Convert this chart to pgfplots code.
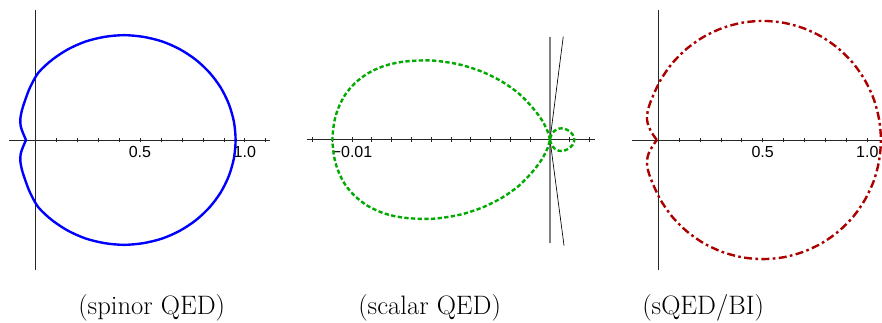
\documentclass[border=0pt]{standalone}
\usepackage{fontspec}
\usepackage{pgfplots}
\pgfplotsset{compat=1.18}
\newfontfamily\helv{Liberation Sans}
\definecolor{qblue}{rgb}{0,0,1}
\definecolor{qgreen}{rgb}{0,0.667,0}
\definecolor{qred}{rgb}{0.667,0,0}

\pgfplotsset{
  panel/.style={
    scale only axis,
    anchor=south west,
    axis lines=middle,
    axis line style={-, draw=black!85, line width=0.6pt},
    clip=false,
    ytick=\empty,
    scaled x ticks=false,
    tick align=center,
    major tick length=3.5pt,
    minor tick length=3.5pt,
    tick style={black!85, line width=0.5pt},
    xticklabel style={font=\helv\fontsize{12}{14}\selectfont, inner sep=1pt, yshift=-2pt},
  },
}

\begin{document}
\begin{tikzpicture}
\path[use as bounding box] (0,0) rectangle (661.5pt,241.5pt);

% spinor QED
\begin{axis}[panel, at={(6.75pt,39pt)}, width=195.75pt, height=195pt,
  xmin=-0.124, xmax=1.12, ymin=-0.62, ymax=0.62,
  xtick={0.5,1.0}, xticklabels={0.5,1.0},
  minor xtick={0.1,0.2,0.3,0.4,0.6,0.7,0.8,0.9,1.1}]
\addplot[qblue, line width=1.8pt, smooth] coordinates {
  (-0.043,0) (-0.058,0.035) (-0.068,0.065) (-0.070,0.10) (-0.062,0.143)
  (-0.047,0.19) (-0.024,0.25) (0.016,0.321) (0.082,0.383) (0.158,0.433)
  (0.242,0.470) (0.332,0.492) (0.424,0.5) (0.516,0.492) (0.606,0.470)
  (0.690,0.433) (0.766,0.383) (0.832,0.321) (0.885,0.25) (0.924,0.171)
  (0.948,0.087) (0.956,0)
  (0.948,-0.087) (0.924,-0.171) (0.885,-0.25) (0.832,-0.321) (0.766,-0.383)
  (0.690,-0.433) (0.606,-0.470) (0.516,-0.492) (0.424,-0.5) (0.332,-0.492)
  (0.242,-0.470) (0.158,-0.433) (0.082,-0.383) (0.016,-0.321) (-0.024,-0.25)
  (-0.047,-0.19) (-0.062,-0.143) (-0.070,-0.10) (-0.068,-0.065) (-0.058,-0.035)
  (-0.043,0)
};
\end{axis}

% scalar QED
\begin{axis}[panel, at={(230pt,59.5pt)}, width=216.2pt, height=154.5pt,
  xmin=-0.01229, xmax=0.00227, ymin=-0.005217, ymax=0.005217,
  y axis line style={draw=black!50, line width=1.1pt},
  xtick={-0.01}, xticklabels={−0.01},
  minor xtick={-0.012,-0.011,-0.009,-0.008,-0.007,-0.006,-0.005,-0.004,-0.003,-0.002,-0.001,0.001,0.002}]
\addplot[black, line width=0.5pt] coordinates {(0.00067,0.00522) (0,0) (0.00071,-0.00537)};
\addplot[qgreen, line width=1.8pt, dash pattern=on 3.2pt off 1.8pt, smooth] coordinates {
  (0,0) (-0.00012,0.00042) (-0.00042,0.00101) (-0.00093,0.00168) (-0.00160,0.00236)
  (-0.00244,0.00295) (-0.00345,0.00345) (-0.00463,0.00382) (-0.00598,0.00401)
  (-0.00732,0.00396) (-0.00833,0.00375) (-0.00918,0.00337) (-0.00985,0.00286)
  (-0.01035,0.00227) (-0.01069,0.00160) (-0.01089,0.00093) (-0.01099,0)
  (-0.01089,-0.00093) (-0.01069,-0.00160) (-0.01035,-0.00227) (-0.00985,-0.00286)
  (-0.00918,-0.00337) (-0.00833,-0.00375) (-0.00732,-0.00396) (-0.00598,-0.00401)
  (-0.00463,-0.00382) (-0.00345,-0.00345) (-0.00244,-0.00295) (-0.00160,-0.00236)
  (-0.00093,-0.00168) (-0.00042,-0.00101) (-0.00012,-0.00042) (0,0)
  (0.00007,0.00024) (0.00022,0.00044) (0.00045,0.00056) (0.00070,0.00056)
  (0.00095,0.00045) (0.00115,0.00025) (0.00123,0) (0.00115,-0.00025)
  (0.00095,-0.00045) (0.00070,-0.00056) (0.00045,-0.00056) (0.00022,-0.00044)
  (0.00007,-0.00024) (0,0)
};
\end{axis}

% sQED/BI
\begin{axis}[panel, at={(473.8pt,39pt)}, width=187.7pt, height=195pt,
  xmin=-0.1257, xmax=1.07, ymin=-0.621, ymax=0.621,
  xtick={0.5,1.0}, xticklabels={0.5,1.0},
  minor xtick={0.1,0.2,0.3,0.4,0.6,0.7,0.8,0.9}]
\addplot[qred, line width=1.8pt, dash pattern=on 6pt off 2.5pt on 2pt off 2.5pt, smooth] coordinates {
  (-0.006,0) (-0.028,0.032) (-0.045,0.065) (-0.053,0.10) (-0.049,0.14)
  (-0.031,0.1946) (0.011,0.2845) (0.067,0.3658) (0.137,0.4359) (0.2175,0.4928)
  (0.307,0.5347) (0.402,0.5604) (0.5,0.569) (0.598,0.5604) (0.693,0.5347)
  (0.7825,0.4928) (0.863,0.4359) (0.933,0.3658) (0.989,0.2845) (1.031,0.1946)
  (1.056,0.0988) (1.065,0)
  (1.056,-0.0988) (1.031,-0.1946) (0.989,-0.2845) (0.933,-0.3658) (0.863,-0.4359)
  (0.7825,-0.4928) (0.693,-0.5347) (0.598,-0.5604) (0.5,-0.569) (0.402,-0.5604)
  (0.307,-0.5347) (0.2175,-0.4928) (0.137,-0.4359) (0.067,-0.3658) (0.011,-0.2845)
  (-0.031,-0.1946) (-0.049,-0.14) (-0.053,-0.10) (-0.045,-0.065) (-0.028,-0.032)
  (-0.006,0)
};
\end{axis}

\begin{scope}[every node/.style={font=\fontsize{20}{22}\selectfont, anchor=base west, inner sep=0pt}]
\node at (58.5pt,5.8pt) {(spinor QED)};
\node at (268.5pt,5.8pt) {(scalar QED)};
\node at (481.5pt,5.8pt) {(sQED/BI)};
\end{scope}
\end{tikzpicture}
\end{document}
